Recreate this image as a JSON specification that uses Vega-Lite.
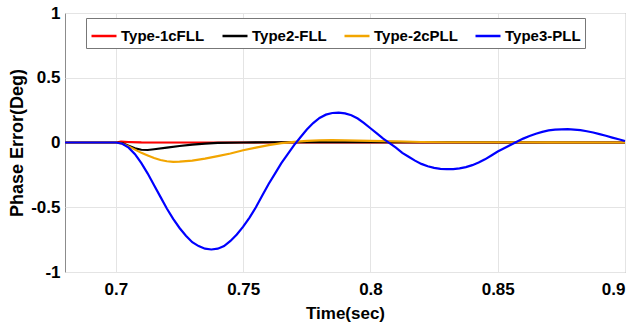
{
  "$schema": "https://vega.github.io/schema/vega-lite/v6.json",
  "width": 560,
  "height": 259,
  "autosize": "none",
  "padding": {"left": 65, "top": 13, "right": 11, "bottom": 57},
  "background": "white",
  "config": {
    "view": {"stroke": "#8c8c8c", "strokeWidth": 1},
    "font": "Liberation Sans",
    "axis": {
      "labelFont": "Liberation Sans", "labelFontWeight": "bold", "labelFontSize": 17, "labelColor": "#000",
      "titleFont": "Liberation Sans", "titleFontWeight": "bold", "titleColor": "#000",
      "grid": true, "gridColor": "#e4e4e4", "gridWidth": 1, "domain": false, "ticks": false
    }
  },
  "data": {"values": [
    {"t": 0.68, "v": 0, "s": "Type-1cFLL"},
    {"t": 0.70, "v": 0, "s": "Type-1cFLL"},
    {"t": 0.702, "v": 0.006, "s": "Type-1cFLL"},
    {"t": 0.705, "v": 0.004, "s": "Type-1cFLL"},
    {"t": 0.71, "v": 0.001, "s": "Type-1cFLL"},
    {"t": 0.72, "v": 0, "s": "Type-1cFLL"},
    {"t": 0.9, "v": 0, "s": "Type-1cFLL"},

    {"t": 0.68, "v": 0, "s": "Type2-FLL"},
    {"t": 0.70, "v": 0, "s": "Type2-FLL"},
    {"t": 0.7025, "v": -0.005, "s": "Type2-FLL"},
    {"t": 0.705, "v": -0.025, "s": "Type2-FLL"},
    {"t": 0.7075, "v": -0.045, "s": "Type2-FLL"},
    {"t": 0.71, "v": -0.056, "s": "Type2-FLL"},
    {"t": 0.7125, "v": -0.058, "s": "Type2-FLL"},
    {"t": 0.715, "v": -0.052, "s": "Type2-FLL"},
    {"t": 0.72, "v": -0.04, "s": "Type2-FLL"},
    {"t": 0.725, "v": -0.027, "s": "Type2-FLL"},
    {"t": 0.73, "v": -0.016, "s": "Type2-FLL"},
    {"t": 0.735, "v": -0.008, "s": "Type2-FLL"},
    {"t": 0.74, "v": -0.003, "s": "Type2-FLL"},
    {"t": 0.75, "v": 0, "s": "Type2-FLL"},
    {"t": 0.76, "v": 0.002, "s": "Type2-FLL"},
    {"t": 0.78, "v": 0.003, "s": "Type2-FLL"},
    {"t": 0.80, "v": 0.002, "s": "Type2-FLL"},
    {"t": 0.85, "v": 0.001, "s": "Type2-FLL"},
    {"t": 0.9, "v": 0, "s": "Type2-FLL"},

    {"t": 0.68, "v": 0, "s": "Type-2cPLL"},
    {"t": 0.70, "v": 0, "s": "Type-2cPLL"},
    {"t": 0.7025, "v": -0.01, "s": "Type-2cPLL"},
    {"t": 0.705, "v": -0.03, "s": "Type-2cPLL"},
    {"t": 0.7075, "v": -0.055, "s": "Type-2cPLL"},
    {"t": 0.71, "v": -0.08, "s": "Type-2cPLL"},
    {"t": 0.7125, "v": -0.10, "s": "Type-2cPLL"},
    {"t": 0.715, "v": -0.12, "s": "Type-2cPLL"},
    {"t": 0.7175, "v": -0.135, "s": "Type-2cPLL"},
    {"t": 0.72, "v": -0.145, "s": "Type-2cPLL"},
    {"t": 0.7225, "v": -0.149, "s": "Type-2cPLL"},
    {"t": 0.725, "v": -0.148, "s": "Type-2cPLL"},
    {"t": 0.73, "v": -0.14, "s": "Type-2cPLL"},
    {"t": 0.735, "v": -0.125, "s": "Type-2cPLL"},
    {"t": 0.74, "v": -0.105, "s": "Type-2cPLL"},
    {"t": 0.745, "v": -0.085, "s": "Type-2cPLL"},
    {"t": 0.75, "v": -0.06, "s": "Type-2cPLL"},
    {"t": 0.755, "v": -0.04, "s": "Type-2cPLL"},
    {"t": 0.76, "v": -0.02, "s": "Type-2cPLL"},
    {"t": 0.765, "v": -0.005, "s": "Type-2cPLL"},
    {"t": 0.77, "v": 0.005, "s": "Type-2cPLL"},
    {"t": 0.775, "v": 0.012, "s": "Type-2cPLL"},
    {"t": 0.78, "v": 0.016, "s": "Type-2cPLL"},
    {"t": 0.785, "v": 0.018, "s": "Type-2cPLL"},
    {"t": 0.79, "v": 0.017, "s": "Type-2cPLL"},
    {"t": 0.80, "v": 0.012, "s": "Type-2cPLL"},
    {"t": 0.81, "v": 0.008, "s": "Type-2cPLL"},
    {"t": 0.82, "v": 0.004, "s": "Type-2cPLL"},
    {"t": 0.83, "v": 0.002, "s": "Type-2cPLL"},
    {"t": 0.85, "v": 0.002, "s": "Type-2cPLL"},
    {"t": 0.87, "v": 0.001, "s": "Type-2cPLL"},
    {"t": 0.9, "v": 0, "s": "Type-2cPLL"},

    {"t": 0.68, "v": 0, "s": "Type3-PLL"},
    {"t": 0.70, "v": 0, "s": "Type3-PLL"},
    {"t": 0.7025, "v": -0.01, "s": "Type3-PLL"},
    {"t": 0.705, "v": -0.04, "s": "Type3-PLL"},
    {"t": 0.7075, "v": -0.09, "s": "Type3-PLL"},
    {"t": 0.71, "v": -0.16, "s": "Type3-PLL"},
    {"t": 0.7125, "v": -0.24, "s": "Type3-PLL"},
    {"t": 0.715, "v": -0.33, "s": "Type3-PLL"},
    {"t": 0.7175, "v": -0.42, "s": "Type3-PLL"},
    {"t": 0.72, "v": -0.51, "s": "Type3-PLL"},
    {"t": 0.7225, "v": -0.59, "s": "Type3-PLL"},
    {"t": 0.725, "v": -0.66, "s": "Type3-PLL"},
    {"t": 0.7275, "v": -0.72, "s": "Type3-PLL"},
    {"t": 0.73, "v": -0.77, "s": "Type3-PLL"},
    {"t": 0.7325, "v": -0.80, "s": "Type3-PLL"},
    {"t": 0.735, "v": -0.82, "s": "Type3-PLL"},
    {"t": 0.7375, "v": -0.826, "s": "Type3-PLL"},
    {"t": 0.74, "v": -0.82, "s": "Type3-PLL"},
    {"t": 0.7425, "v": -0.80, "s": "Type3-PLL"},
    {"t": 0.745, "v": -0.76, "s": "Type3-PLL"},
    {"t": 0.7475, "v": -0.71, "s": "Type3-PLL"},
    {"t": 0.75, "v": -0.65, "s": "Type3-PLL"},
    {"t": 0.7525, "v": -0.58, "s": "Type3-PLL"},
    {"t": 0.755, "v": -0.50, "s": "Type3-PLL"},
    {"t": 0.7575, "v": -0.41, "s": "Type3-PLL"},
    {"t": 0.76, "v": -0.32, "s": "Type3-PLL"},
    {"t": 0.7625, "v": -0.24, "s": "Type3-PLL"},
    {"t": 0.765, "v": -0.16, "s": "Type3-PLL"},
    {"t": 0.7675, "v": -0.09, "s": "Type3-PLL"},
    {"t": 0.77, "v": -0.02, "s": "Type3-PLL"},
    {"t": 0.7725, "v": 0.04, "s": "Type3-PLL"},
    {"t": 0.775, "v": 0.10, "s": "Type3-PLL"},
    {"t": 0.7775, "v": 0.15, "s": "Type3-PLL"},
    {"t": 0.78, "v": 0.19, "s": "Type3-PLL"},
    {"t": 0.7825, "v": 0.215, "s": "Type3-PLL"},
    {"t": 0.785, "v": 0.228, "s": "Type3-PLL"},
    {"t": 0.7875, "v": 0.23, "s": "Type3-PLL"},
    {"t": 0.79, "v": 0.225, "s": "Type3-PLL"},
    {"t": 0.7925, "v": 0.21, "s": "Type3-PLL"},
    {"t": 0.795, "v": 0.185, "s": "Type3-PLL"},
    {"t": 0.7975, "v": 0.15, "s": "Type3-PLL"},
    {"t": 0.80, "v": 0.11, "s": "Type3-PLL"},
    {"t": 0.8025, "v": 0.07, "s": "Type3-PLL"},
    {"t": 0.805, "v": 0.03, "s": "Type3-PLL"},
    {"t": 0.8075, "v": -0.005, "s": "Type3-PLL"},
    {"t": 0.81, "v": -0.04, "s": "Type3-PLL"},
    {"t": 0.8125, "v": -0.08, "s": "Type3-PLL"},
    {"t": 0.815, "v": -0.11, "s": "Type3-PLL"},
    {"t": 0.8175, "v": -0.14, "s": "Type3-PLL"},
    {"t": 0.82, "v": -0.165, "s": "Type3-PLL"},
    {"t": 0.8225, "v": -0.183, "s": "Type3-PLL"},
    {"t": 0.825, "v": -0.196, "s": "Type3-PLL"},
    {"t": 0.8275, "v": -0.203, "s": "Type3-PLL"},
    {"t": 0.83, "v": -0.206, "s": "Type3-PLL"},
    {"t": 0.8325, "v": -0.205, "s": "Type3-PLL"},
    {"t": 0.835, "v": -0.2, "s": "Type3-PLL"},
    {"t": 0.8375, "v": -0.19, "s": "Type3-PLL"},
    {"t": 0.84, "v": -0.175, "s": "Type3-PLL"},
    {"t": 0.8425, "v": -0.155, "s": "Type3-PLL"},
    {"t": 0.845, "v": -0.13, "s": "Type3-PLL"},
    {"t": 0.8475, "v": -0.10, "s": "Type3-PLL"},
    {"t": 0.85, "v": -0.07, "s": "Type3-PLL"},
    {"t": 0.8525, "v": -0.045, "s": "Type3-PLL"},
    {"t": 0.855, "v": -0.02, "s": "Type3-PLL"},
    {"t": 0.8575, "v": 0.005, "s": "Type3-PLL"},
    {"t": 0.86, "v": 0.03, "s": "Type3-PLL"},
    {"t": 0.8625, "v": 0.05, "s": "Type3-PLL"},
    {"t": 0.865, "v": 0.068, "s": "Type3-PLL"},
    {"t": 0.8675, "v": 0.082, "s": "Type3-PLL"},
    {"t": 0.87, "v": 0.093, "s": "Type3-PLL"},
    {"t": 0.8725, "v": 0.099, "s": "Type3-PLL"},
    {"t": 0.875, "v": 0.102, "s": "Type3-PLL"},
    {"t": 0.8775, "v": 0.103, "s": "Type3-PLL"},
    {"t": 0.88, "v": 0.1, "s": "Type3-PLL"},
    {"t": 0.8825, "v": 0.095, "s": "Type3-PLL"},
    {"t": 0.885, "v": 0.087, "s": "Type3-PLL"},
    {"t": 0.8875, "v": 0.077, "s": "Type3-PLL"},
    {"t": 0.89, "v": 0.065, "s": "Type3-PLL"},
    {"t": 0.8925, "v": 0.052, "s": "Type3-PLL"},
    {"t": 0.895, "v": 0.038, "s": "Type3-PLL"},
    {"t": 0.8975, "v": 0.025, "s": "Type3-PLL"},
    {"t": 0.9, "v": 0.012, "s": "Type3-PLL"}
  ]},
  "encoding": {
    "x": {"field": "t", "type": "quantitative",
      "scale": {"domain": [0.68, 0.9], "nice": false, "zero": false},
      "axis": {"values": [0.7, 0.75, 0.8, 0.85, 0.9], "labelExpr": "datum.value + ''", "title": "Time(sec)", "titleFontSize": 17, "labelPadding": 9, "titlePadding": 8}},
    "y": {"field": "v", "type": "quantitative",
      "scale": {"domain": [-1, 1], "nice": false},
      "axis": {"values": [-1, -0.5, 0, 0.5, 1], "labelExpr": "datum.value + ''", "title": "Phase Error(Deg)", "titleFontSize": 18, "labelPadding": 5, "titlePadding": 4}},
    "color": {"field": "s", "type": "nominal",
      "scale": {"domain": ["Type-1cFLL", "Type2-FLL", "Type-2cPLL", "Type3-PLL"], "range": ["#ff0000", "#000000", "#f2a500", "#0000ff"]},
      "legend": {"title": null, "orient": "none", "legendX": 21, "legendY": 5, "direction": "horizontal", "columns": 4,
        "symbolType": "stroke", "symbolSize": 625, "symbolStrokeWidth": 2.5,
        "labelFont": "Liberation Sans", "labelFontWeight": "bold", "labelFontSize": 15, "labelColor": "#000",
        "columnPadding": 12, "labelOffset": 3, "padding": 4,
        "strokeColor": "#777", "fillColor": "white"}}
  },
  "layer": [
    {"transform": [{"filter": "datum.s === 'Type-1cFLL'"}], "mark": {"type": "line", "strokeWidth": 2.2}},
    {"transform": [{"filter": "datum.s === 'Type2-FLL'"}], "mark": {"type": "line", "strokeWidth": 2.2}},
    {"transform": [{"filter": "datum.s === 'Type-2cPLL'"}], "mark": {"type": "line", "strokeWidth": 2.2}},
    {"transform": [{"filter": "datum.s === 'Type3-PLL'"}], "mark": {"type": "line", "strokeWidth": 2.2}}
  ]
}
